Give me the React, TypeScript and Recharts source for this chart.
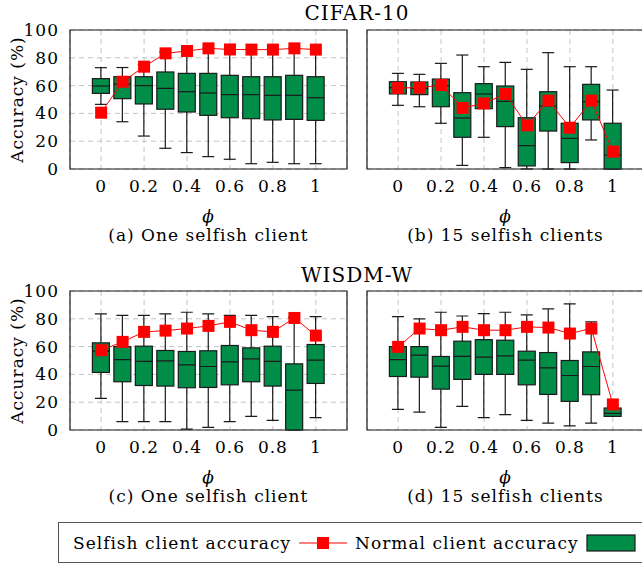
import {
  ComposedChart,
  Bar,
  Line,
  XAxis,
  YAxis,
  CartesianGrid,
  ReferenceArea,
} from "recharts";

const PHI = [0, 0.1, 0.2, 0.3, 0.4, 0.5, 0.6, 0.7, 0.8, 0.9, 1];
const X_TICKS = [0, 0.2, 0.4, 0.6, 0.8, 1];
const Y_TICKS = [0, 20, 40, 60, 80, 100];
const X_DOMAIN = [-0.145, 1.145];

// (a) CIFAR-10, one selfish client
const aLow = [46.5, 34, 23.7, 14.9, 11.8, 8.9, 7, 3.8, 4.8, 3.8, 3.8];
const aQ1 = [54.4, 50.6, 46.8, 43, 41, 38.6, 36.9, 36.2, 35.3, 35.7, 35];
const aMed = [59.7, 61, 60, 58, 55.6, 54.7, 53.5, 53.5, 53, 53, 51.3];
const aQ3 = [65, 66.4, 66.4, 69.8, 68.8, 68.8, 67.4, 66.4, 66.4, 67.4, 66.4];
const aHigh = [72.9, 73, 75, 84, 86, 87, 86, 86, 86, 87, 86];
const aSelfish = [40.5, 62.8, 73.6, 83.2, 84.9, 86.8, 86, 85.9, 85.9, 86.8, 85.9];

// (b) CIFAR-10, 15 selfish clients
const bLow = [45.8, 44.8, 32.9, 2.6, 22.8, 1, 0, 0, 0, 20.9, 0];
const bQ1 = [54, 53.5, 44.8, 22.8, 43.4, 30.5, 2.2, 27.3, 4.6, 35.3, 0];
const bMed = [58.5, 58, 60, 36.7, 54, 48.7, 16.8, 45.3, 22, 48.5, 10];
const bQ3 = [62.8, 62.6, 64.7, 54.9, 61.4, 59.7, 36.9, 55.6, 32.9, 60.9, 32.9];
const bHigh = [68.8, 68.1, 76, 82, 73.6, 76.7, 71.7, 83.7, 73.6, 73.6, 56.8];
const bSelfish = [58.3, 58.5, 60.4, 43.9, 47.2, 54, 31.4, 49.2, 29.7, 49.2, 12.5];

// (c) WISDM-W, one selfish client
const cLow = [22.7, 6, 6, 6, 0.7, 1.9, 6, 9.8, 6.9, 0, 8.9];
const cQ1 = [41.4, 34.7, 32, 31.6, 30.4, 30.6, 32.5, 34.7, 31.6, 0, 33.5];
const cMed = [56.7, 50.7, 49.3, 49.8, 46.9, 45.7, 49, 51.2, 49.3, 28.7, 50.2];
const cQ3 = [62.7, 60, 60.3, 57.2, 56.5, 57, 60.8, 59.1, 60.3, 47.6, 61.5];
const cHigh = [83.5, 82.5, 82.5, 83.5, 84.7, 83.5, 82.5, 82.5, 81.6, 81, 81.6];
const cSelfish = [57.4, 63.4, 70.6, 71.5, 73, 74.9, 77.8, 71.8, 70.6, 80.6, 67.9];

// (d) WISDM-W, 15 selfish clients
const dLow = [14.8, 12.9, 1.9, 17, 8.9, 11, 6.9, 5, 2.9, 5, 9.8];
const dQ1 = [38.5, 38, 29.4, 36.4, 40, 40, 32.5, 25.6, 20.6, 25.4, 9.8];
const dMed = [50.7, 53.8, 45.9, 52.9, 52.4, 53.3, 50.2, 44.7, 39.2, 45.7, 12];
const dQ3 = [60, 60, 52.9, 63.9, 65, 64.6, 56.7, 55.7, 50, 56.2, 15.8];
const dHigh = [81.6, 80, 84.7, 82, 83.7, 84.7, 82.8, 87.1, 90.7, 77.8, 15.8];
const dSelfish = [59.8, 73, 71.8, 74.2, 71.8, 71.8, 74.2, 73.7, 69.4, 73, 18.4];

const GREEN = "#008d48";
const RED = "#ff0000";
const INK = "#1a1a1a";
const FONT = '"DejaVu Serif", serif';

const PLOT_W = 277;
const PLOT_H = 139;
const TOP_PAD = 30;
const XAXIS_H = 60;
const LEFT_AXIS_W = 70;

function rows(low: number[], q1: number[], med: number[], q3: number[], high: number[], selfish: number[]) {
  return PHI.map((phi, i) => ({
    phi,
    low: low[i],
    q1: q1[i],
    med: med[i],
    q3: q3[i],
    high: high[i],
    selfish: selfish[i],
  }));
}

// whole box plot drawn inside the range bar [low, high]
const BoxShape = (props: any) => {
  const { x, y, width, height, payload } = props;
  if (x == null || payload == null) return null;
  const { low, q1, med, q3, high } = payload;
  const top = Math.min(y, y + height);
  const h = Math.abs(height);
  const k = high > low ? h / (high - low) : 0;
  const py = (v: number) => top + (high - v) * k;
  const cx = x + width / 2;
  const cap = 6;
  return (
    <g stroke={INK} strokeWidth={1.2}>
      <line x1={cx} x2={cx} y1={py(high)} y2={py(q3)} />
      <line x1={cx} x2={cx} y1={py(q1)} y2={py(low)} />
      <line x1={cx - cap} x2={cx + cap} y1={py(high)} y2={py(high)} />
      <line x1={cx - cap} x2={cx + cap} y1={py(low)} y2={py(low)} />
      <rect x={x} y={py(q3)} width={width} height={py(q1) - py(q3)} fill={GREEN} />
      <line x1={x} x2={x + width} y1={py(med)} y2={py(med)} />
    </g>
  );
};

const Square = (props: any) => {
  const { cx, cy } = props;
  if (cx == null || cy == null) return null;
  return <rect x={cx - 6} y={cy - 6} width={12} height={12} fill={RED} />;
};

const YLabel = (props: any) => {
  const vb = props.viewBox || { x: 0, y: TOP_PAD, height: PLOT_H };
  const cx = vb.x + 17;
  const cy = vb.y + vb.height / 2;
  return (
    <text
      x={cx}
      y={cy}
      transform={`rotate(-90 ${cx} ${cy})`}
      textAnchor="middle"
      dominantBaseline="central"
      fill="#000"
      fontSize={17}
    >
      Accuracy (%)
    </text>
  );
};

function BoxPanel({ data, left, top, showY }: { data: any[]; left: number; top: number; showY: boolean }) {
  const axisW = showY ? LEFT_AXIS_W : 20;
  const width = axisW + PLOT_W + (showY ? 13 : 0);
  return (
    <div style={{ position: "absolute", left, top }}>
      <ComposedChart
        width={width}
        height={TOP_PAD + PLOT_H + XAXIS_H}
        data={data}
        margin={{ top: TOP_PAD, right: showY ? 13 : 0, bottom: 0, left: 0 }}
      >
        <CartesianGrid stroke="#c4c4c4" strokeDasharray="5 4" />
        <XAxis
          dataKey="phi"
          type="number"
          domain={X_DOMAIN}
          ticks={X_TICKS}
          allowDataOverflow
          axisLine={false}
          tickLine={false}
          tickSize={0}
          tickMargin={11}
          height={XAXIS_H}
          tick={{ fill: "#000", fontSize: 17 }}
          label={{ value: "ϕ", position: "insideBottom", offset: 7, fill: "#000", fontSize: 17, fontStyle: "italic" }}
        />
        <YAxis
          type="number"
          domain={[0, 100]}
          ticks={Y_TICKS}
          width={axisW}
          axisLine={false}
          tickLine={false}
          tickSize={0}
          tickMargin={11}
          tick={showY ? { fill: "#000", fontSize: 17 } : false}
          label={showY ? <YLabel /> : undefined}
        />
        <Bar
          dataKey={(d: any) => [d.low, d.high]}
          barSize={17}
          shape={BoxShape}
          isAnimationActive={false}
        />
        <Line
          dataKey="selfish"
          stroke={RED}
          strokeWidth={1}
          dot={<Square />}
          activeDot={false}
          isAnimationActive={false}
        />
        <ReferenceArea
          x1={X_DOMAIN[0]}
          x2={X_DOMAIN[1]}
          y1={0}
          y2={100}
          fill="none"
          stroke={INK}
          strokeWidth={1.2}
          ifOverflow="visible"
        />
      </ComposedChart>
    </div>
  );
}

function Caption({ text, left, top, width }: { text: string; left: number; top: number; width: number }) {
  return (
    <div style={{ position: "absolute", left, top, width, textAlign: "center", lineHeight: "20px" }}>{text}</div>
  );
}

export default function App() {
  const leftPlotX = LEFT_AXIS_W;
  const rightPlotX = 347 + 20;
  return (
    <div
      style={{
        position: "absolute",
        left: 0,
        top: 0,
        width: 642,
        height: 566,
        overflow: "hidden",
        background: "#fff",
        fontFamily: FONT,
        fontSize: 17,
        letterSpacing: 1,
        color: "#000",
      }}
    >
      <div style={{ position: "absolute", left: 257, top: 0, width: 200, textAlign: "center", fontSize: 20, lineHeight: "27px" }}>
        CIFAR-10
      </div>
      <div style={{ position: "absolute", left: 257, top: 262, width: 200, textAlign: "center", fontSize: 20, lineHeight: "27px" }}>
        WISDM-W
      </div>

      <BoxPanel data={rows(aLow, aQ1, aMed, aQ3, aHigh, aSelfish)} left={0} top={0} showY />
      <BoxPanel data={rows(bLow, bQ1, bMed, bQ3, bHigh, bSelfish)} left={347} top={0} showY={false} />
      <BoxPanel data={rows(cLow, cQ1, cMed, cQ3, cHigh, cSelfish)} left={0} top={261} showY />
      <BoxPanel data={rows(dLow, dQ1, dMed, dQ3, dHigh, dSelfish)} left={347} top={261} showY={false} />

      <Caption text="(a) One selfish client" left={leftPlotX} top={225} width={PLOT_W} />
      <Caption text="(b) 15 selfish clients" left={rightPlotX} top={225} width={PLOT_W} />
      <Caption text="(c) One selfish client" left={leftPlotX} top={486} width={PLOT_W} />
      <Caption text="(d) 15 selfish clients" left={rightPlotX} top={486} width={PLOT_W} />

      <div
        style={{
          position: "absolute",
          left: 58,
          top: 522,
          width: 620,
          height: 41,
          boxSizing: "border-box",
          border: "1.3px solid #555",
          display: "flex",
          alignItems: "center",
          paddingLeft: 14,
        }}
      >
        <span>Selfish client accuracy</span>
        <svg width={48} height={14} style={{ marginLeft: 8 }}>
          <line x1={0} x2={48} y1={7} y2={7} stroke={RED} strokeWidth={1} />
          <rect x={18} y={1} width={12} height={12} fill={RED} />
        </svg>
        <span style={{ marginLeft: 8 }}>Normal client accuracy</span>
        <svg width={50} height={18} style={{ marginLeft: 7 }}>
          <rect x={1} y={1} width={48} height={16} fill={GREEN} stroke={INK} strokeWidth={1.2} />
        </svg>
      </div>
    </div>
  );
}
